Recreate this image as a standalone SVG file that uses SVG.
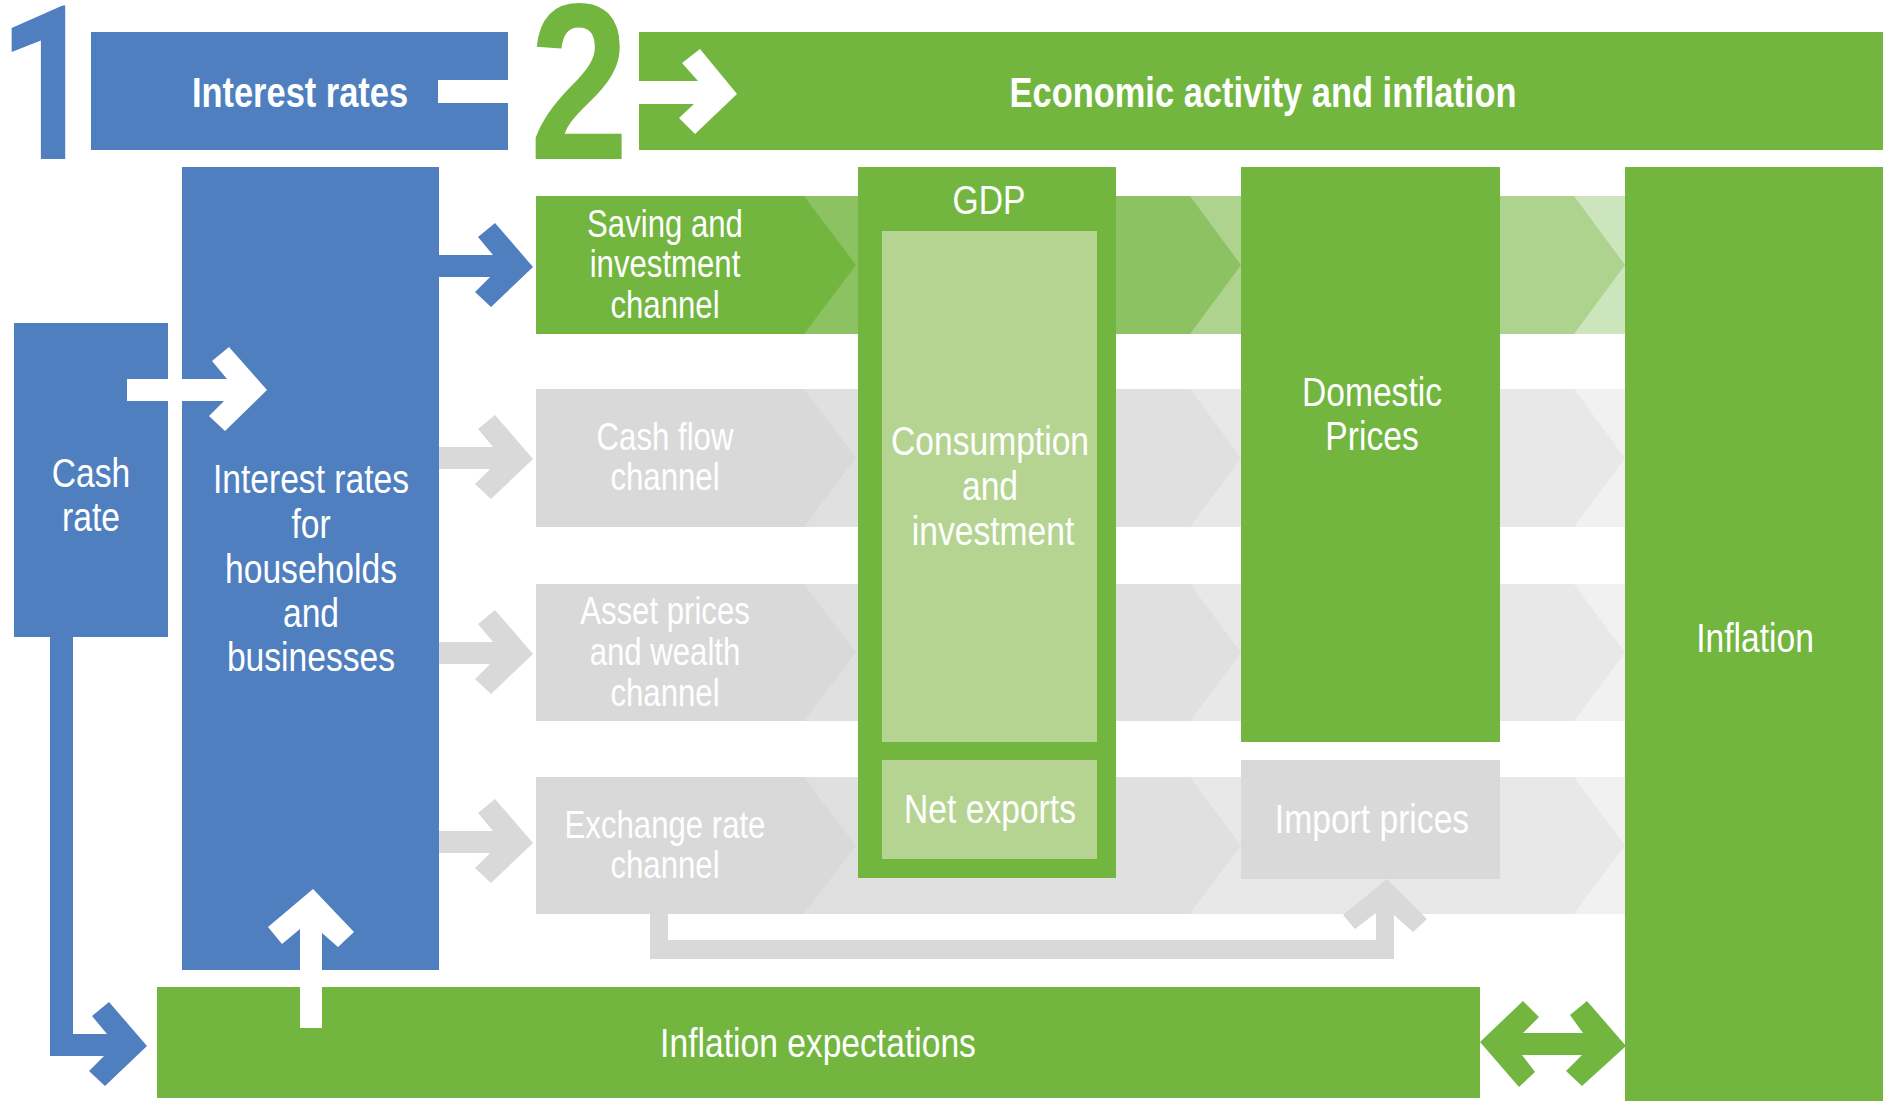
<svg xmlns="http://www.w3.org/2000/svg" width="1883" height="1101" viewBox="0 0 1883 1101">
<style>
.blue{fill:#4F7FBF}
.green{fill:#72B640}
.lg{fill:#B5D491}
.wh{fill:#FFFFFF}
.gr{fill:#D9D9D9}
.g1{fill:#72B640}.g2{fill:#8CC262}.g3{fill:#AED38F}.g4{fill:#CDE5BD}
.s1{fill:#D9D9D9}.s2{fill:#E0E0E0}.s3{fill:#E8E8E8}.s4{fill:#F1F1F1}
text{font-family:"Liberation Sans Narrow","Liberation Sans",Arial,sans-serif;fill:#FFFFFF;text-anchor:middle}
.bold{font-weight:bold;font-size:42px}
.big{font-weight:bold;font-size:223px}
.lab{font-size:41px}
.ch{font-size:38px}
</style>
<rect width="1883" height="1101" fill="#FFFFFF"/>

<g id="channel-bands">
  <g id="row-saving">
    <rect class="g4" x="536" y="196" width="1089" height="138"/>
    <polygon class="g3" points="536,196 1574,196 1625,265 1574,334 536,334"/>
    <polygon class="g2" points="536,196 1190,196 1241,265 1190,334 536,334"/>
    <polygon class="g1" points="536,196 804,196 856,265 804,334 536,334"/>
  </g>
  <g id="row-cashflow">
    <rect class="s4" x="536" y="389" width="1089" height="138"/>
    <polygon class="s3" points="536,389 1574,389 1625,458 1574,527 536,527"/>
    <polygon class="s2" points="536,389 1190,389 1241,458 1190,527 536,527"/>
    <polygon class="s1" points="536,389 804,389 856,458 804,527 536,527"/>
  </g>
  <g id="row-asset">
    <rect class="s4" x="536" y="584" width="1089" height="137"/>
    <polygon class="s3" points="536,584 1574,584 1625,652.5 1574,721 536,721"/>
    <polygon class="s2" points="536,584 1190,584 1241,652.5 1190,721 536,721"/>
    <polygon class="s1" points="536,584 804,584 856,652.5 804,721 536,721"/>
  </g>
  <g id="row-exchange">
    <rect class="s4" x="536" y="777" width="1089" height="137"/>
    <polygon class="s3" points="536,777 1574,777 1625,845.5 1574,914 536,914"/>
    <polygon class="s2" points="536,777 1190,777 1241,845.5 1190,914 536,914"/>
    <polygon class="s1" points="536,777 804,777 856,845.5 804,914 536,914"/>
  </g>
</g>

<g id="connectors">
  <polygon id="c-exchange-import" class="gr" points="650,914 668,914 668,940 1376,940 1376,913 1355,929 1343,915 1387,879 1427,919 1413,932 1394,915 1394,959 650,959"/>
  <polygon id="c-cash-expect" class="blue" points="50,636 73,636 73,1034 107,1034 92,1016 109,1002 147,1046 105,1086 89,1071 104,1056 50,1056"/>
  <polygon id="c-ir-saving" class="blue" points="439,255 493,255 478,237 495,223 533,267 491,307 475,292 490,277 439,277"/>
  <polygon id="c-ir-cashflow" class="gr" points="439,447 493,447 478,429 495,415 533,459 491,499 475,484 490,469 439,469"/>
  <polygon id="c-ir-asset" class="gr" points="439,642 493,642 478,624 495,610 533,654 491,694 475,679 490,664 439,664"/>
  <polygon id="c-ir-exchange" class="gr" points="439,831 493,831 478,813 495,799 533,843 491,883 475,868 490,853 439,853"/>
  <polygon id="c-expect-inflation" class="green" points="1480,1042 1523,1001 1539,1017 1523,1033 1583,1033 1570,1015 1587,1001 1626,1046 1582,1086 1566,1071 1582,1055 1522,1055 1535,1072 1519,1087"/>
</g>

<g id="n-step1">
  <text class="big" transform="translate(47,159) scale(0.8,1)" style="fill:#4F7FBF;font-family:Roboto,'Liberation Sans',sans-serif;font-size:216px">1</text>
</g>
<g id="n-interest-rates">
  <rect class="blue" x="91" y="32" width="417" height="118"/>
  <rect class="wh" x="438" y="80" width="70" height="23"/>
  <text class="bold" transform="translate(300,107) scale(0.82,1)">Interest rates</text>
</g>
<g id="n-step2">
  <text class="big" transform="translate(579,159) scale(0.8,1)" style="fill:#72B640">2</text>
</g>
<g id="n-economic">
  <rect class="green" x="639" y="32" width="1244" height="118"/>
  <polygon class="wh" points="639,81 698,81 682,63 700,49 737,94 695,134 679,118 694,104 639,104"/>
  <text class="bold" transform="translate(1263,107) scale(0.82,1)">Economic activity and inflation</text>
</g>

<g id="n-cash-rate">
  <rect class="blue" x="14" y="323" width="154" height="314"/>
  <text class="lab" transform="translate(91,487) scale(0.82,1)">Cash</text>
  <text class="lab" transform="translate(91,531) scale(0.82,1)">rate</text>
</g>
<g id="n-ir-households">
  <rect class="blue" x="182" y="167" width="257" height="803"/>
  <text class="lab" transform="translate(311,493) scale(0.82,1)">Interest rates</text>
  <text class="lab" transform="translate(311,538) scale(0.82,1)">for</text>
  <text class="lab" transform="translate(311,583) scale(0.82,1)">households</text>
  <text class="lab" transform="translate(311,627) scale(0.82,1)">and</text>
  <text class="lab" transform="translate(311,671) scale(0.82,1)">businesses</text>
</g>
<polygon id="c-cash-ir" class="wh" points="127,379 227,379 212,361 229,347 267,390 225,431 209,416 224,401 127,401"/>

<g id="n-saving">
  <text class="ch" transform="translate(665,237) scale(0.82,1)">Saving and</text>
  <text class="ch" transform="translate(665,277) scale(0.82,1)">investment</text>
  <text class="ch" transform="translate(665,318) scale(0.82,1)">channel</text>
</g>
<g id="n-cashflow">
  <text class="ch" transform="translate(665,450) scale(0.82,1)">Cash flow</text>
  <text class="ch" transform="translate(665,490) scale(0.82,1)">channel</text>
</g>
<g id="n-asset">
  <text class="ch" transform="translate(665,624) scale(0.82,1)">Asset prices</text>
  <text class="ch" transform="translate(665,665) scale(0.82,1)">and wealth</text>
  <text class="ch" transform="translate(665,706) scale(0.82,1)">channel</text>
</g>
<g id="n-exchange">
  <text class="ch" transform="translate(665,838) scale(0.82,1)">Exchange rate</text>
  <text class="ch" transform="translate(665,878) scale(0.82,1)">channel</text>
</g>

<g id="n-gdp">
  <rect class="green" x="858" y="167" width="258" height="711"/>
  <text class="lab" transform="translate(989,214) scale(0.82,1)">GDP</text>
  <rect class="lg" x="882" y="231" width="215" height="511"/>
  <text class="lab" transform="translate(990,455) scale(0.82,1)">Consumption</text>
  <text class="lab" transform="translate(990,500) scale(0.82,1)">and</text>
  <text class="lab" transform="translate(993,545) scale(0.82,1)">investment</text>
  <rect class="lg" x="882" y="760" width="215" height="99"/>
  <text class="lab" transform="translate(990,823) scale(0.82,1)">Net exports</text>
</g>

<g id="n-domestic">
  <rect class="green" x="1241" y="167" width="259" height="575"/>
  <text class="lab" transform="translate(1372,406) scale(0.82,1)">Domestic</text>
  <text class="lab" transform="translate(1372,450) scale(0.82,1)">Prices</text>
</g>
<g id="n-import">
  <rect class="gr" x="1241" y="760" width="259" height="119"/>
  <text class="lab" transform="translate(1372,833) scale(0.82,1)">Import prices</text>
</g>
<g id="n-inflation">
  <rect class="green" x="1625" y="167" width="258" height="934"/>
  <text class="lab" transform="translate(1755,652) scale(0.82,1)">Inflation</text>
</g>
<g id="n-expectations">
  <rect class="green" x="157" y="987" width="1323" height="111"/>
  <text class="lab" transform="translate(818,1057) scale(0.82,1)">Inflation expectations</text>
</g>
<polygon id="c-expect-ir" class="wh" points="300,1028 300,929 282,944 268,927 313,889 354,932 338,947 322,933 322,1028"/>
</svg>
